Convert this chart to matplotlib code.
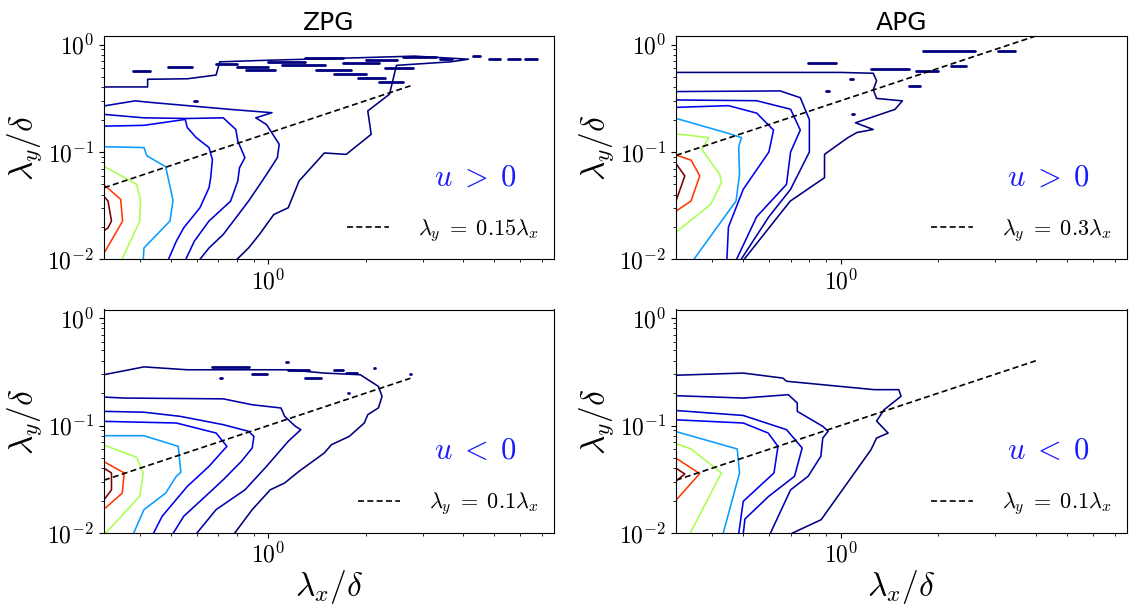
import math
import matplotlib
matplotlib.use("Agg")
import matplotlib.pyplot as plt
from matplotlib.ticker import LogLocator, FuncFormatter, NullFormatter

plt.rcParams["mathtext.fontset"] = "cm"

# ── colours of the contour levels (outermost -> innermost) ──
level_colors = ["#00007f", "#0000a8", "#0000d0", "#0000f2",
                "#0a9bff", "#a8ff50", "#ff3a00", "#7f0000"]

# ── ZPG, u > 0 : (lambda_x/delta, lambda_y/delta) ──
zpg_pos_l1 = [(0.309, 0.403), (0.423, 0.403), (0.423, 0.475), (0.561, 0.48), (0.689, 0.52),
              (0.707, 0.69), (0.938, 0.71), (1.31, 0.73), (1.93, 0.754), (2.83, 0.78),
              (4.16, 0.73), (3.66, 0.69), (2.49, 0.64), (2.37, 0.345), (2.03, 0.241),
              (2.08, 0.146), (1.74, 0.095), (1.49, 0.098), (1.415, 0.0824), (1.244, 0.0537),
              (1.152, 0.0303), (1.039, 0.0262), (0.938, 0.0171), (0.868, 0.0128), (0.793, 0.0098)]
zpg_pos_l2 = [(0.309, 0.268), (0.387, 0.299), (0.434, 0.289), (0.764, 0.249), (1.026, 0.232),
              (0.914, 0.208), (0.987, 0.18), (1.08, 0.118), (1.066, 0.0886), (0.987, 0.0619),
              (0.926, 0.0465), (0.868, 0.0349), (0.725, 0.0171), (0.655, 0.0128), (0.61, 0.0098)]
zpg_pos_l3 = [(0.309, 0.224), (0.412, 0.208), (0.561, 0.205), (0.725, 0.208), (0.793, 0.162),
              (0.804, 0.1265), (0.846, 0.0886), (0.814, 0.0714), (0.804, 0.0537), (0.764, 0.0349),
              (0.655, 0.0228), (0.59, 0.0148), (0.553, 0.0098)]
zpg_pos_l4 = [(0.309, 0.174), (0.412, 0.177), (0.553, 0.201), (0.561, 0.169), (0.598, 0.136),
              (0.655, 0.11), (0.671, 0.085), (0.663, 0.0577), (0.655, 0.0465), (0.614, 0.0303),
              (0.547, 0.0197), (0.519, 0.0148), (0.489, 0.0098)]
zpg_pos_l5 = [(0.309, 0.112), (0.412, 0.11), (0.421, 0.092), (0.481, 0.073), (0.507, 0.0355),
              (0.496, 0.0228), (0.412, 0.0128), (0.41, 0.0098)]
zpg_pos_l6 = [(0.309, 0.074), (0.391, 0.05), (0.402, 0.0363), (0.40, 0.0228), (0.351, 0.0098)]
zpg_pos_l7 = [(0.309, 0.05), (0.349, 0.0363), (0.354, 0.0228), (0.313, 0.012), (0.309, 0.0116)]
zpg_pos_l8 = [(0.309, 0.039), (0.319, 0.035), (0.327, 0.0228), (0.319, 0.0197), (0.309, 0.0184)]
# small islands of the outer level: (x_start, x_end, y)
zpg_pos_islands = [(0.38, 0.43, 0.57), (0.49, 0.58, 0.62), (0.69, 0.80, 0.66), (0.80, 1.0, 0.62),
                   (0.85, 1.05, 0.58), (1.0, 1.3, 0.69), (1.1, 1.5, 0.64), (1.3, 1.7, 0.75),
                   (1.4, 1.8, 0.58), (1.6, 2.0, 0.53), (1.7, 2.2, 0.67), (1.9, 2.3, 0.49),
                   (2.0, 2.5, 0.72), (2.2, 2.6, 0.45), (2.3, 2.8, 0.6), (2.6, 3.3, 0.76),
                   (3.4, 3.7, 0.74), (4.3, 4.5, 0.78), (4.8, 5.2, 0.74), (5.5, 6.0, 0.73),
                   (6.2, 6.8, 0.74), (0.59, 0.60, 0.3)]

# ── APG, u > 0 ──
apg_pos_l1 = [(0.309, 0.55), (1.0, 0.55), (1.26, 0.54), (1.29, 0.46), (1.26, 0.38), (1.29, 0.315),
              (1.55, 0.299), (1.47, 0.249), (1.11, 0.187), (1.26, 0.162), (1.123, 0.152),
              (1.052, 0.136), (0.891, 0.0951), (0.891, 0.0577), (0.698, 0.0349), (0.50, 0.0098)]
apg_pos_l2 = [(0.309, 0.365), (0.65, 0.37), (0.75, 0.32), (0.8, 0.2), (0.8, 0.1), (0.7, 0.045),
              (0.6, 0.025), (0.49, 0.0098)]
apg_pos_l3 = [(0.309, 0.305), (0.55, 0.3), (0.7, 0.25), (0.75, 0.16), (0.7, 0.1), (0.68, 0.05),
              (0.55, 0.025), (0.475, 0.0098)]
apg_pos_l4 = [(0.309, 0.26), (0.45, 0.27), (0.55, 0.23), (0.62, 0.16), (0.6, 0.1), (0.5, 0.045),
              (0.45, 0.02), (0.445, 0.0098)]
apg_pos_l5 = [(0.309, 0.206), (0.45, 0.149), (0.494, 0.136), (0.484, 0.112), (0.487, 0.062),
              (0.475, 0.035), (0.35, 0.0098)]
apg_pos_l6 = [(0.309, 0.148), (0.392, 0.136), (0.372, 0.106), (0.423, 0.062), (0.428, 0.052),
              (0.397, 0.0326), (0.309, 0.0178)]
apg_pos_l7 = [(0.309, 0.094), (0.345, 0.084), (0.367, 0.06), (0.345, 0.035), (0.309, 0.028)]
apg_pos_l8 = [(0.309, 0.079), (0.33, 0.06), (0.309, 0.034)]
apg_pos_islands = [(0.79, 0.97, 0.666), (1.8, 2.6, 0.87), (3.06, 3.45, 0.87), (2.19, 2.43, 0.63),
                   (1.24, 1.62, 0.59), (1.71, 2.0, 0.57), (1.63, 1.76, 0.41), (0.90, 0.92, 0.37),
                   (1.07, 1.09, 0.48), (1.08, 1.10, 0.227)]

# ── ZPG, u < 0 ──
zpg_neg_l1 = [(0.309, 0.2965), (0.412, 0.351), (0.561, 0.33), (0.891, 0.33), (1.152, 0.33),
              (1.489, 0.3075), (1.926, 0.2965), (2.19, 0.231), (2.247, 0.1867), (2.19, 0.1459),
              (2.03, 0.1262), (1.98, 0.1055), (1.78, 0.0793), (1.567, 0.0663), (1.489, 0.0555),
              (1.244, 0.0375), (1.123, 0.0292), (1.013, 0.0252), (0.891, 0.0165), (0.783, 0.0098)]
zpg_neg_l2 = [(0.309, 0.184), (0.358, 0.18), (0.725, 0.177), (0.891, 0.156), (1.094, 0.1455),
              (1.123, 0.1217), (1.212, 0.0982), (1.26, 0.0915), (1.152, 0.0713), (0.987, 0.0417),
              (0.846, 0.0252), (0.689, 0.0165), (0.598, 0.0098)]
zpg_neg_l3 = [(0.309, 0.1354), (0.412, 0.133), (0.533, 0.1217), (0.725, 0.1018), (0.868, 0.0883),
              (0.902, 0.0793), (0.891, 0.0618), (0.825, 0.0464), (0.725, 0.0313), (0.622, 0.0204),
              (0.547, 0.0143), (0.506, 0.0098)]
zpg_neg_l4 = [(0.309, 0.1093), (0.519, 0.1055), (0.689, 0.0851), (0.744, 0.064), (0.655, 0.0417),
              (0.561, 0.0271), (0.469, 0.0143), (0.44, 0.0098)]
zpg_neg_l5 = [(0.309, 0.0804), (0.412, 0.0804), (0.526, 0.064), (0.536, 0.0367), (0.519, 0.0337),
              (0.481, 0.0235), (0.412, 0.0165), (0.382, 0.0098)]
zpg_neg_l6 = [(0.309, 0.066), (0.391, 0.0506), (0.41, 0.0362), (0.40, 0.022), (0.312, 0.0098)]
zpg_neg_l7 = [(0.309, 0.0463), (0.358, 0.0362), (0.353, 0.0235), (0.309, 0.0165)]
zpg_neg_l8 = [(0.309, 0.0403), (0.327, 0.0362), (0.327, 0.0252), (0.309, 0.0201)]
zpg_neg_islands = [(0.67, 0.87, 0.35), (0.71, 0.72, 0.276), (0.89, 0.99, 0.30), (1.15, 1.34, 0.33),
                   (1.3, 1.45, 0.276), (1.6, 1.7, 0.33), (1.74, 1.88, 0.31), (2.12, 2.14, 0.34),
                   (1.76, 1.78, 0.2), (2.75, 2.77, 0.30), (1.13, 1.15, 0.39)]

# ── APG, u < 0 ──
apg_neg_l1 = [(0.309, 0.2935), (0.50, 0.3075), (0.663, 0.276), (0.68, 0.258), (1.27, 0.2155),
              (1.51, 0.2155), (1.535, 0.187), (1.36, 0.14), (1.29, 0.11), (1.40, 0.085),
              (1.29, 0.0765), (1.24, 0.0596), (0.87, 0.0133), (0.70, 0.0098)]
apg_neg_l2 = [(0.309, 0.1895), (0.50, 0.18), (0.689, 0.1935), (0.734, 0.162), (0.734, 0.1354),
              (0.88, 0.0982), (0.914, 0.0883), (0.88, 0.0765), (0.868, 0.0517), (0.793, 0.0337),
              (0.70, 0.0252), (0.605, 0.0098)]
apg_neg_l3 = [(0.309, 0.138), (0.50, 0.124), (0.68, 0.0915), (0.76, 0.0618), (0.72, 0.0337),
              (0.60, 0.022), (0.506, 0.0135), (0.50, 0.0098)]
apg_neg_l4 = [(0.309, 0.113), (0.50, 0.1055), (0.597, 0.0851), (0.64, 0.064), (0.622, 0.0362),
              (0.50, 0.0197), (0.484, 0.0098)]
apg_neg_l5 = [(0.309, 0.088), (0.479, 0.0605), (0.487, 0.0362), (0.433, 0.0098)]
apg_neg_l6 = [(0.309, 0.068), (0.345, 0.0605), (0.428, 0.0362), (0.342, 0.0098)]
apg_neg_l7 = [(0.309, 0.05), (0.367, 0.0357), (0.309, 0.02)]
apg_neg_l8 = [(0.309, 0.0403), (0.33, 0.0354), (0.309, 0.0302)]
apg_neg_islands = []

# ── reference lines lambda_y = c * lambda_x ──
fit_coef = [0.15, 0.3, 0.1, 0.1]
fit_labels = [r"$\lambda_y\;=\;0.15\lambda_x$", r"$\lambda_y\;=\;0.3\lambda_x$",
              r"$\lambda_y\;=\;0.1\lambda_x$", r"$\lambda_y\;=\;0.1\lambda_x$"]
fit_x_zpg = [0.31, 2.75]
fit_x_apg = [0.31, 4.0]

titles = ["ZPG", "APG", "", ""]
sign_text = [r"$u\;>\;0$", r"$u\;>\;0$", r"$u\;<\;0$", r"$u\;<\;0$"]

panels = [
    [zpg_pos_l1, zpg_pos_l2, zpg_pos_l3, zpg_pos_l4, zpg_pos_l5, zpg_pos_l6, zpg_pos_l7, zpg_pos_l8],
    [apg_pos_l1, apg_pos_l2, apg_pos_l3, apg_pos_l4, apg_pos_l5, apg_pos_l6, apg_pos_l7, apg_pos_l8],
    [zpg_neg_l1, zpg_neg_l2, zpg_neg_l3, zpg_neg_l4, zpg_neg_l5, zpg_neg_l6, zpg_neg_l7, zpg_neg_l8],
    [apg_neg_l1, apg_neg_l2, apg_neg_l3, apg_neg_l4, apg_neg_l5, apg_neg_l6, apg_neg_l7, apg_neg_l8],
]
islands = [zpg_pos_islands, apg_pos_islands, zpg_neg_islands, apg_neg_islands]
fit_x = [fit_x_zpg, fit_x_apg, fit_x_zpg, fit_x_apg]


def pow10_label(v, pos):
    return r"$10^{%d}$" % round(math.log10(v))


W, H = 1130, 606
fig = plt.figure(figsize=(W / 100, H / 100), dpi=100)
boxes = [(104, 36, 450, 223.5), (676, 36, 451, 223.5),
         (104, 309.5, 450, 223.5), (676, 309.5, 451, 223.5)]

for i, (bx, by, bw, bh) in enumerate(boxes):
    ax = fig.add_axes([bx / W, 1 - (by + bh) / H, bw / W, bh / H])
    ax.set_xscale("log")
    ax.set_yscale("log")

    for pts, col in zip(panels[i], level_colors):
        xs = [p[0] for p in pts]
        ys = [p[1] for p in pts]
        ax.plot(xs, ys, color=col, lw=1.15)
    for x0, x1, y in islands[i]:
        ax.plot([x0, x1], [y, y], color=level_colors[0], lw=2.0, solid_capstyle="round")

    fx = fit_x[i]
    ax.plot(fx, [fit_coef[i] * v for v in fx], color="k", ls=(0, (3.6, 2.0)), lw=1.2,
            label=fit_labels[i])

    ax.set_xlim(0.31, 7.65)
    ax.set_ylim(0.01, 1.2)

    ax.xaxis.set_major_locator(LogLocator(base=10))
    ax.yaxis.set_major_locator(LogLocator(base=10))
    ax.xaxis.set_major_formatter(FuncFormatter(pow10_label))
    ax.yaxis.set_major_formatter(FuncFormatter(pow10_label))
    ax.xaxis.set_minor_formatter(NullFormatter())
    ax.yaxis.set_minor_formatter(NullFormatter())
    ax.tick_params(labelsize=17)

    ax.set_ylabel(r"$\lambda_y/\delta$", fontsize=24, labelpad=2)
    if i >= 2:
        ax.set_xlabel(r"$\lambda_x/\delta$", fontsize=24, labelpad=0)
    if titles[i]:
        ax.set_title(titles[i], fontsize=18, pad=4)

    ax.text(0.826, 0.37, sign_text[i], transform=ax.transAxes, color="#1a1aff",
            fontsize=22, ha="center", va="center")
    ax.legend(loc="lower right", frameon=False, fontsize=16, handlelength=1.9,
              handletextpad=1.3, borderaxespad=0.3)

fig.savefig("out.png", dpi=100)
